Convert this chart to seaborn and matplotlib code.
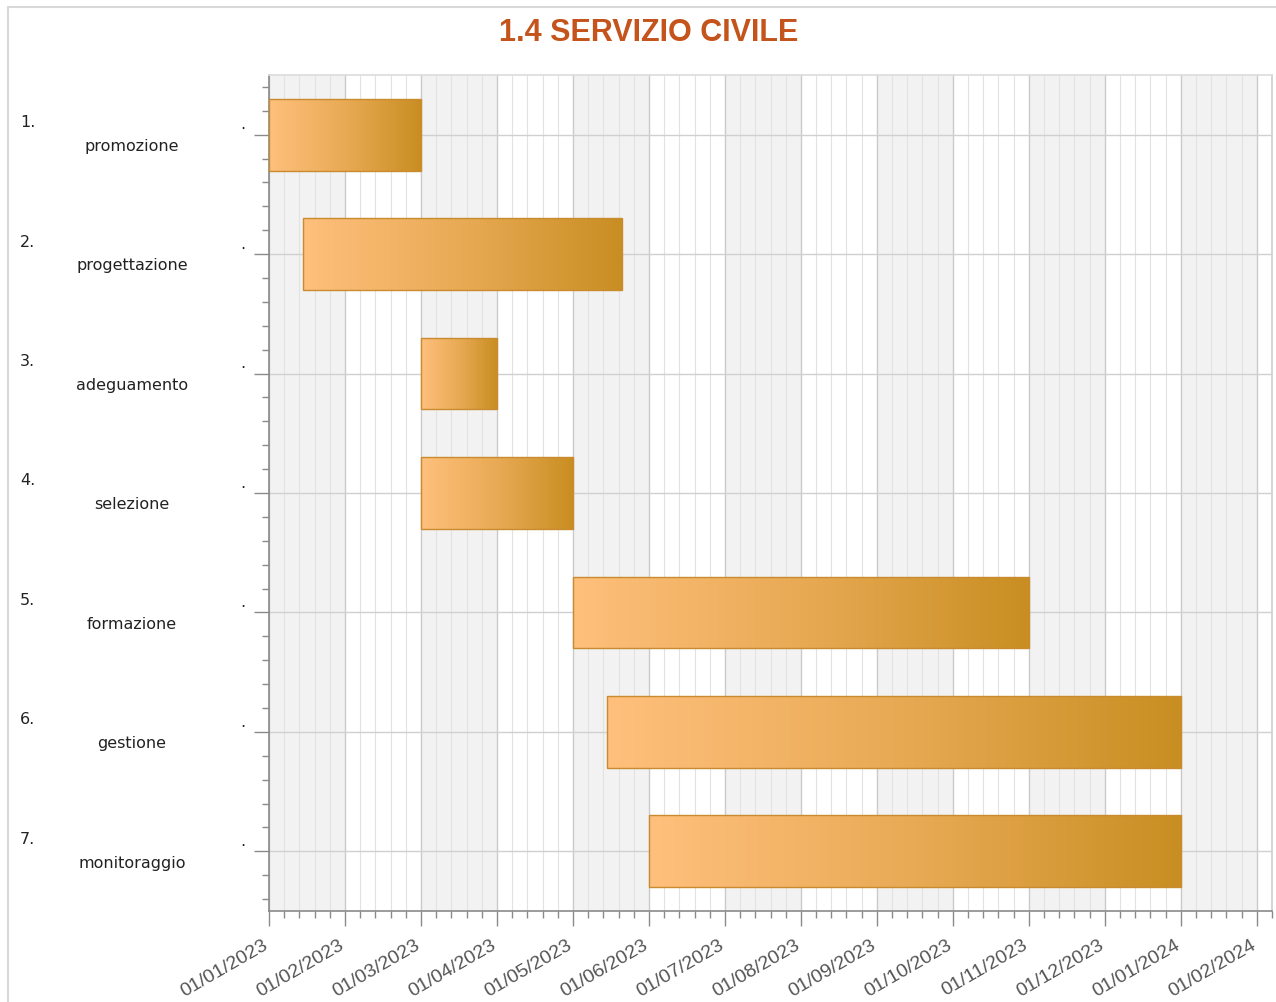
import calendar
import numpy as np
import pandas as pd
import matplotlib
matplotlib.use("Agg")
import matplotlib.pyplot as plt
import seaborn as sns
from matplotlib.colors import LinearSegmentedColormap
from matplotlib.ticker import FixedLocator, MultipleLocator
from matplotlib.patches import Rectangle
import matplotlib.transforms as mtransforms

# ---------------- data ----------------
title = "1.4 SERVIZIO CIVILE"
numbers = ["1.", "2.", "3.", "4.", "5.", "6.", "7."]
tasks = ["promozione", "progettazione", "adeguamento", "selezione",
         "formazione", "gestione", "monitoraggio"]
start_dates = ["01/01/2023", "15/01/2023", "01/03/2023", "01/03/2023",
               "01/05/2023", "15/05/2023", "01/06/2023"]
end_dates = ["01/03/2023", "21/05/2023", "01/04/2023", "01/05/2023",
             "01/11/2023", "01/01/2024", "01/01/2024"]
tick_labels = ["01/01/2023", "01/02/2023", "01/03/2023", "01/04/2023",
               "01/05/2023", "01/06/2023", "01/07/2023", "01/08/2023",
               "01/09/2023", "01/10/2023", "01/11/2023", "01/12/2023",
               "01/01/2024", "01/02/2024"]


def month_pos(s):
    d, m, y = (int(v) for v in s.split("/"))
    ndays = calendar.monthrange(y, m)[1]
    return (y - 2023) * 12 + (m - 1) + (d - 1) / ndays


starts = np.array([month_pos(s) for s in start_dates])
ends = np.array([month_pos(s) for s in end_dates])
ticks = np.array([month_pos(s) for s in tick_labels])

df = pd.DataFrame({"task": tasks, "start": starts, "dur": ends - starts})

# ---------------- figure ----------------
W, H = 1276, 1003
sns.set_theme(style="white")
plt.rcParams["font.family"] = ["DejaVu Sans"]
fig = plt.figure(figsize=(W / 100, H / 100), dpi=100)
ax = fig.add_axes([269 / W, 1 - 912 / H, (1272 - 269) / W, (912 - 76) / H])

sns.barplot(data=df, x="dur", y="task", orient="h", width=0.6, ax=ax,
            color="#F0B060", edgecolor="#C98A30", linewidth=1.0)
bars = list(ax.patches)
for p, st in zip(bars, df["start"]):
    p.set_x(st)

xmax = 13.2
ax.set_xlim(0, xmax)
ax.set_ylim(len(tasks) - 0.5, -0.5)

# gradient fill
cmap = LinearSegmentedColormap.from_list("g", ["#FEC07C", "#E9AA55", "#C98E22"])
grad = np.linspace(0, 1, 256).reshape(1, -1)
for p in bars:
    x0, y0 = p.get_x(), p.get_y()
    x1, y1 = x0 + p.get_width(), y0 + p.get_height()
    im = ax.imshow(grad, cmap=cmap, extent=[x0, x1, y1, y0], aspect="auto",
                   interpolation="bilinear", zorder=2)
    im.set_clip_path(p)
    p.set_facecolor("none")
    p.set_zorder(3)
ax.set_xlim(0, xmax)
ax.set_ylim(len(tasks) - 0.5, -0.5)

# alternating month bands
for i in range(0, len(ticks), 2):
    ax.axvspan(ticks[i], min(ticks[i] + 1, xmax), color="#F2F2F2", zorder=0, lw=0)

# ticks & grid
ax.xaxis.set_major_locator(FixedLocator(ticks))
ax.xaxis.set_minor_locator(MultipleLocator(0.2))
ax.yaxis.set_minor_locator(MultipleLocator(0.2))
ax.set_xticklabels(tick_labels, rotation=30, ha="right", va="baseline",
                   rotation_mode="anchor", fontsize=14, color="#555555",
                   family="Liberation Sans")
ax.set_yticks(range(len(tasks)))
ax.set_yticklabels([])
ax.set_xlabel("")
ax.set_ylabel("")
ax.set_axisbelow(True)
ax.grid(which="major", axis="x", color="#CACACA", lw=1.0, zorder=0.5)
ax.grid(which="minor", axis="x", color="#E2E2E2", lw=0.8, zorder=0.5)
ax.grid(which="major", axis="y", color="#D0D0D0", lw=1.0, zorder=0.5)
ax.tick_params(axis="x", which="major", length=11, width=1, color="#8A8A8A", pad=15,
               bottom=True)
ax.tick_params(axis="x", which="minor", length=5, width=1, color="#8A8A8A", bottom=True)
ax.tick_params(axis="y", which="major", length=11, width=1, color="#8A8A8A", left=True)
ax.tick_params(axis="y", which="minor", length=5, width=1, color="#8A8A8A", left=True)

for side in ["left", "bottom"]:
    ax.spines[side].set_color("#8A8A8A")
    ax.spines[side].set_linewidth(1.2)
ax.spines["top"].set_color("#DDDDDD")
ax.spines["right"].set_color("#D0D0D0")

# y labels
trans = mtransforms.blended_transform_factory(fig.transFigure, ax.transData)
for i, (num, name) in enumerate(zip(numbers, tasks)):
    ax.text(20 / W, i - 0.11, num, transform=trans, ha="left", va="center",
            fontsize=11.5, color="#222222")
    ax.text(132 / W, i + 0.09, name, transform=trans, ha="center", va="center",
            fontsize=11.5, color="#222222")
    ax.text(243 / W, i - 0.09, ".", transform=trans, ha="center", va="center",
            fontsize=11.5, color="#222222")

# title
fig.text(649 / W, 1 - 33 / H, title, ha="center", va="center", fontsize=22,
         fontweight="bold", color="#C4531C", family="Liberation Sans")

# outer frame
fig.patches.append(Rectangle((8 / W, -0.05), 1.1, 1 - 8 / H + 0.05,
                             transform=fig.transFigure, fill=False,
                             edgecolor="#D8D8D8", lw=1.5))

fig.savefig("out.png", dpi=100)
